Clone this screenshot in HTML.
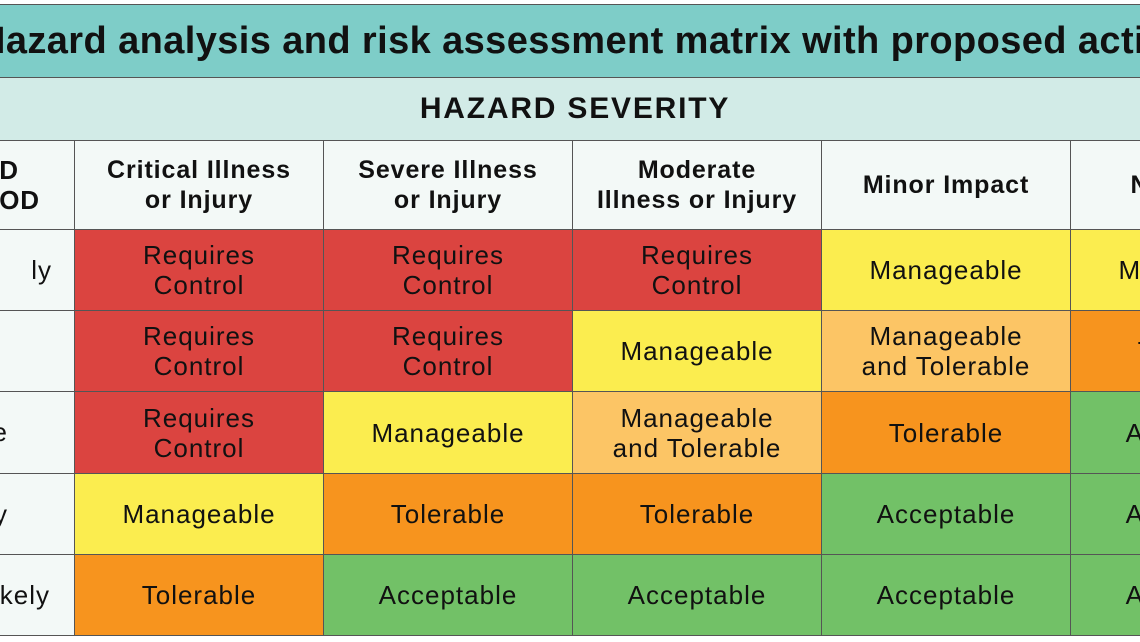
<!DOCTYPE html>
<html><head><meta charset="utf-8"><style>
body{margin:0;width:1140px;height:642px;overflow:hidden;background:#fff;position:relative;font-family:"Liberation Sans",sans-serif;color:#111}
.a{position:absolute;box-sizing:border-box;display:flex;align-items:center;justify-content:center;text-align:center;border:1px solid #555;overflow:hidden}
.t{left:-10px;top:4px;width:1170px;height:74px;background:#7ecdc8}
.tt{position:absolute;left:-22px;top:20px;font-weight:bold;font-size:38px;letter-spacing:0.4px;white-space:nowrap}
.s{left:-10px;top:77px;width:1170px;height:64px;background:#d2ebe7;font-weight:bold;font-size:30px;letter-spacing:1.8px}
.h{background:#f3f9f7;font-weight:bold;font-size:25px;line-height:30px;letter-spacing:0.9px}
.c{font-size:26px;line-height:30px;letter-spacing:1px}
.r{background:#db4440}.y{background:#fbed4f}.lo{background:#fcc565}.o{background:#f7941e}.g{background:#72c167}
.l{background:#f3f9f7;font-size:26px;justify-content:flex-end;white-space:nowrap;letter-spacing:1px}
</style></head><body>
<div class="a t"></div>
<div class="tt">Hazard analysis and risk assessment matrix with proposed actions</div>
<div class="a s">HAZARD SEVERITY</div>
<div class="a h" style="left:-200px;top:140px;width:275px;height:90px;justify-content:flex-end;padding-right:34px;text-align:left;font-size:26px">D<br>OD</div>
<div class="a h" style="left:74px;top:140px;width:250px;height:90px">Critical Illness<br>or Injury</div>
<div class="a h" style="left:323px;top:140px;width:250px;height:90px">Severe Illness<br>or Injury</div>
<div class="a h" style="left:572px;top:140px;width:250px;height:90px">Moderate<br>Illness or Injury</div>
<div class="a h" style="left:821px;top:140px;width:250px;height:90px">Minor Impact</div>
<div class="a h" style="left:1070px;top:140px;width:250px;height:90px">No Impact</div>

<div class="a l" style="left:-200px;top:229px;width:275px;height:82px;padding-right:22px">ly</div>
<div class="a l" style="left:-200px;top:310px;width:275px;height:82px"></div>
<div class="a l" style="left:-200px;top:391px;width:275px;height:83px;padding-right:66px">e</div>
<div class="a l" style="left:-200px;top:473px;width:275px;height:82px;padding-right:66px">y</div>
<div class="a l" style="left:-200px;top:554px;width:275px;height:82px;padding-right:24px">kely</div>

<div class="a c r" style="left:74px;top:229px;width:250px;height:82px">Requires<br>Control</div>
<div class="a c r" style="left:323px;top:229px;width:250px;height:82px">Requires<br>Control</div>
<div class="a c r" style="left:572px;top:229px;width:250px;height:82px">Requires<br>Control</div>
<div class="a c y" style="left:821px;top:229px;width:250px;height:82px">Manageable</div>
<div class="a c y" style="left:1070px;top:229px;width:250px;height:82px">Manageable</div>

<div class="a c r" style="left:74px;top:310px;width:250px;height:82px">Requires<br>Control</div>
<div class="a c r" style="left:323px;top:310px;width:250px;height:82px">Requires<br>Control</div>
<div class="a c y" style="left:572px;top:310px;width:250px;height:82px">Manageable</div>
<div class="a c lo" style="left:821px;top:310px;width:250px;height:82px">Manageable<br>and Tolerable</div>
<div class="a c o" style="left:1070px;top:310px;width:250px;height:82px">Tolerable</div>

<div class="a c r" style="left:74px;top:391px;width:250px;height:83px">Requires<br>Control</div>
<div class="a c y" style="left:323px;top:391px;width:250px;height:83px">Manageable</div>
<div class="a c lo" style="left:572px;top:391px;width:250px;height:83px">Manageable<br>and Tolerable</div>
<div class="a c o" style="left:821px;top:391px;width:250px;height:83px">Tolerable</div>
<div class="a c g" style="left:1070px;top:391px;width:250px;height:83px">Acceptable</div>

<div class="a c y" style="left:74px;top:473px;width:250px;height:82px">Manageable</div>
<div class="a c o" style="left:323px;top:473px;width:250px;height:82px">Tolerable</div>
<div class="a c o" style="left:572px;top:473px;width:250px;height:82px">Tolerable</div>
<div class="a c g" style="left:821px;top:473px;width:250px;height:82px">Acceptable</div>
<div class="a c g" style="left:1070px;top:473px;width:250px;height:82px">Acceptable</div>

<div class="a c o" style="left:74px;top:554px;width:250px;height:82px">Tolerable</div>
<div class="a c g" style="left:323px;top:554px;width:250px;height:82px">Acceptable</div>
<div class="a c g" style="left:572px;top:554px;width:250px;height:82px">Acceptable</div>
<div class="a c g" style="left:821px;top:554px;width:250px;height:82px">Acceptable</div>
<div class="a c g" style="left:1070px;top:554px;width:250px;height:82px">Acceptable</div>
</body></html>
